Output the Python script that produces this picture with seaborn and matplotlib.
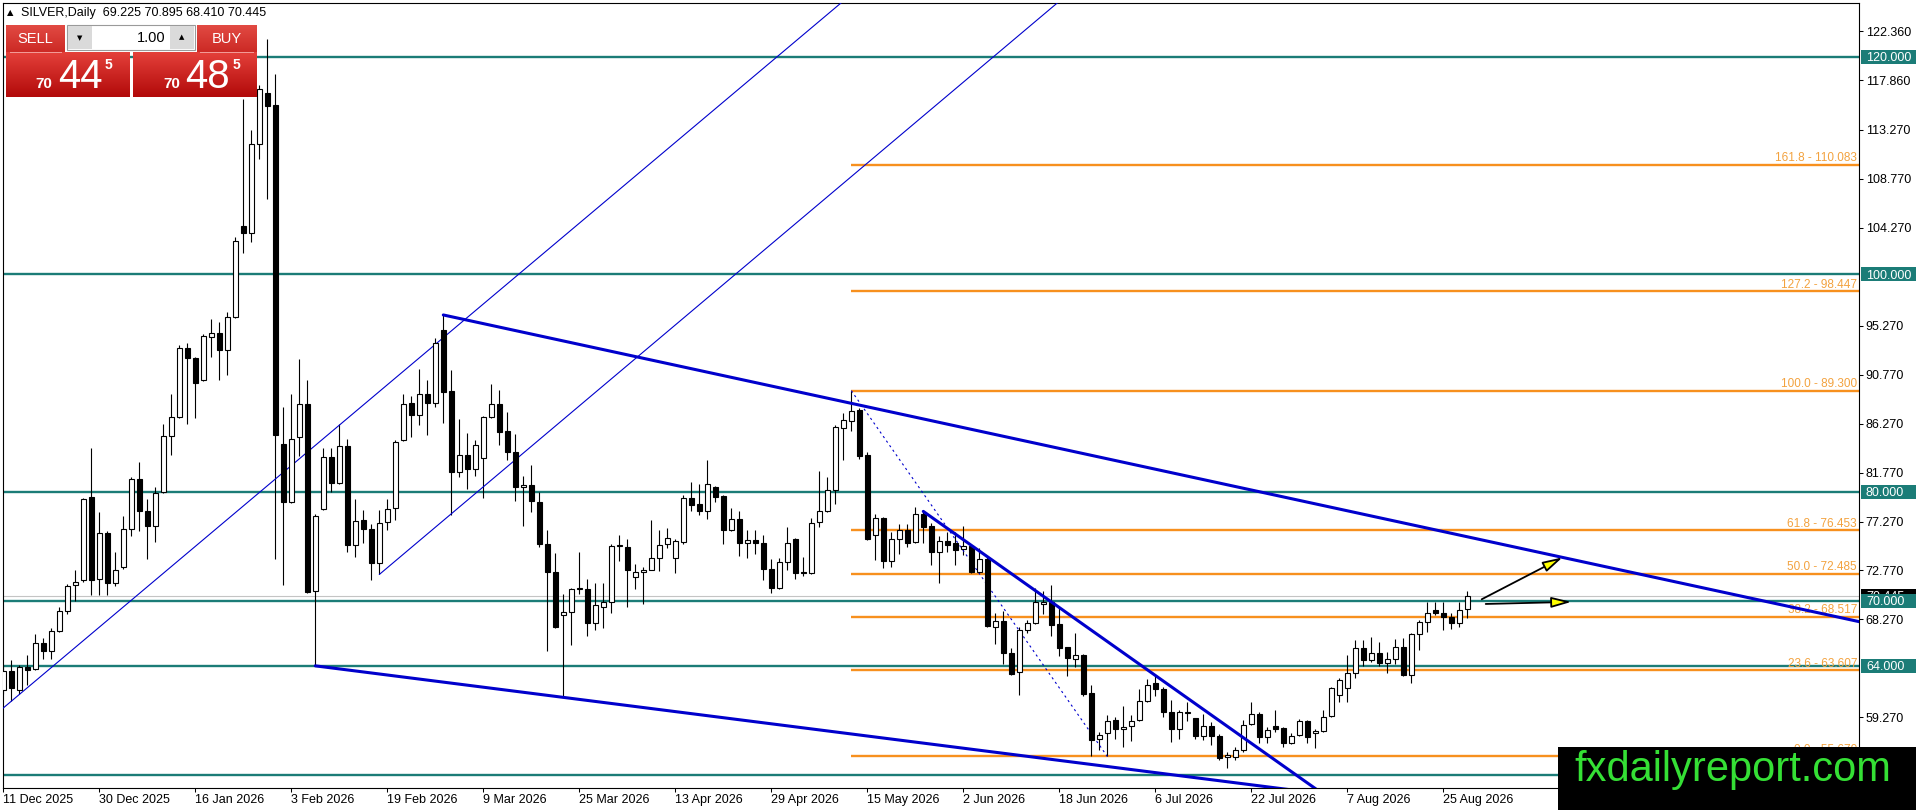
import numpy as np
import pandas as pd
import matplotlib
matplotlib.use("Agg")
import matplotlib.pyplot as plt
import matplotlib.transforms as mtrans
from matplotlib.patches import Rectangle, FancyArrowPatch, ArrowStyle
from matplotlib.colors import LinearSegmentedColormap
import seaborn as sns

# ---------------- data (daily OHLC, bar 0 = 11 Dec 2025 ... bar 183 = 28 Aug 2026) ----------------
opens = [
    61.8, 63.5, 61.8, 63.9, 63.7, 66.1, 65.4, 67.2, 69.0, 71.4,
    71.9, 79.5, 72.0, 76.2, 71.6, 73.1, 76.6, 81.2, 78.2, 76.9,
    80.0, 85.1, 86.9, 93.2, 92.3, 90.3, 94.2, 94.6, 93.0, 96.1,
    104.4, 103.8, 112.0, 116.7, 115.6, 84.4, 79.1, 85.0, 88.1, 70.9,
    78.4, 83.2, 80.8, 84.2, 75.1, 77.4, 76.6, 73.5, 77.2, 78.5,
    84.8, 88.2, 87.1, 89.0, 88.2,
    94.9, 89.3, 81.8, 83.4, 82.1, 83.1, 86.9, 88.1, 85.6, 83.7,
    80.4, 80.6, 79.1, 75.2, 72.6, 68.7, 68.95, 71.1, 71.1, 67.95,
    69.4, 69.9, 75.0, 74.9, 72.2, 72.6, 72.85, 73.95, 75.2, 73.9,
    75.4, 79.4, 78.9, 78.25, 80.4, 79.6, 76.5, 77.5, 75.3, 75.55,
    75.3, 72.95, 71.2, 73.55, 75.7, 72.6, 72.55, 77.2, 78.25, 80.15,
    85.86, 86.47, 87.48, 83.4, 76.0,
    77.6, 73.6, 75.7, 76.5, 75.4, 78.0, 76.9, 74.5, 75.5, 75.3,
    74.7, 75.0, 72.6, 73.8, 67.55, 68.15, 65.2, 63.4, 67.25, 67.9,
    69.7, 69.9, 67.85, 65.7, 64.6, 65.0, 61.5, 57.25, 57.8, 59.0,
    58.15, 58.45, 59.0, 60.8, 62.4, 61.9, 59.8, 58.15, 59.7, 59.2,
    57.55, 58.5, 57.55, 55.6, 55.6, 56.25, 58.65, 59.6, 57.5, 58.45,
    58.25, 56.9,
    57.64, 58.96, 57.79, 58.04, 59.42, 61.32, 62.0, 63.37, 65.61, 64.54,
    65.21, 64.29, 64.6, 65.71, 63.16, 66.93, 68.07, 69.14, 68.83, 68.47,
    67.98, 69.225,
]
highs = [
    64.1, 64.56, 64.1, 65.0, 66.9, 66.6, 67.5, 69.4, 71.5, 72.8,
    79.4, 84.0, 78.1, 76.4, 74.5, 77.8, 81.4, 82.7, 79.3, 80.4,
    86.2, 89.0, 93.5, 93.7, 92.4, 94.5, 95.9, 95.6, 96.5, 103.4,
    116.1, 113.3, 117.4, 121.6, 118.4, 87.8, 89.0, 92.2, 90.3, 78.0,
    84.0, 84.0, 86.2, 84.9, 79.3, 78.3, 77.0, 78.3, 79.3, 84.8,
    89.0, 88.8, 91.3, 90.3, 94.1,
    96.26, 91.2, 86.7, 85.4, 84.8, 87.0, 89.9, 89.4, 87.3, 85.3,
    81.5, 82.5, 80.0, 76.5, 74.4, 70.6, 71.2, 74.5, 72.0, 71.6,
    71.6, 75.2, 76.0, 75.7, 73.4, 73.1, 77.45, 76.5, 76.7, 75.7,
    79.7, 80.9, 80.7, 82.9, 80.5, 79.7, 78.55, 78.25, 76.5, 76.5,
    76.0, 73.8, 73.9, 76.8, 75.8, 74.0, 77.6, 81.9, 81.4, 86.1,
    87.24, 89.3, 87.7, 83.7, 78.0,
    77.7, 76.35, 77.05, 77.0, 78.65, 78.2, 77.1, 75.95, 76.3, 76.35,
    76.9, 75.2, 74.8, 74.05, 68.9, 69.0, 65.6, 67.6, 68.2, 71.2,
    70.9, 71.45, 69.45, 65.75, 67.05, 65.1, 62.25, 57.9, 59.5, 59.3,
    60.3, 59.5, 61.9, 62.8, 63.15, 62.1, 60.85, 59.95, 60.7, 59.25,
    59.6, 58.85, 57.7, 56.1, 56.55, 59.0, 60.7, 59.8, 58.4, 59.9,
    58.4, 57.8,
    59.08, 59.02, 58.16, 59.94, 62.09, 62.85, 65.0, 66.38, 66.38, 66.63,
    66.23, 65.31, 66.44, 66.53, 66.99, 68.22, 69.91, 69.91, 69.91, 68.83,
    69.91, 70.895,
]
lows = [
    61.4, 60.76, 61.4, 62.2, 63.6, 64.6, 64.6, 67.1, 68.8, 70.0,
    71.7, 70.5, 70.5, 70.5, 71.3, 72.9, 75.9, 76.4, 73.8, 75.4,
    79.9, 83.4, 86.8, 86.2, 86.8, 90.2, 92.4, 90.3, 90.7, 96.0,
    102.0, 103.0, 110.6, 106.9, 73.8, 71.4, 79.0, 83.3, 70.7, 64.0,
    78.3, 80.0, 80.7, 74.5, 74.0, 75.3, 71.9, 72.4, 76.5, 77.4,
    84.7, 85.0, 86.1, 85.2, 87.8,
    86.35, 77.85, 81.4, 80.3, 81.5, 79.4, 86.8, 84.3, 82.9, 79.2,
    76.9, 78.1, 74.9, 65.4, 67.5, 61.1, 65.9, 70.6, 66.7, 67.3,
    67.5, 68.9, 73.6, 69.4, 71.1, 69.7, 72.8, 72.7, 74.8, 72.5,
    75.2, 78.2, 77.85, 77.5, 79.1, 75.2, 76.4, 74.1, 73.9, 74.3,
    71.9, 70.7, 71.1, 72.8, 72.0, 72.3, 72.4, 76.8, 78.1, 78.9,
    82.94, 85.55, 83.0, 75.6, 73.7,
    73.0, 73.1, 74.3, 74.9, 75.3, 75.3, 73.3, 71.65, 74.5, 73.3,
    74.2, 72.5, 72.5, 67.55, 66.0, 64.2, 63.15, 61.3, 67.0, 67.85,
    68.8, 66.7, 64.9, 63.1, 63.9, 61.2, 55.7, 56.25, 55.67, 57.3,
    56.5, 57.1, 58.9, 60.7, 61.2, 59.3, 57.0, 57.25, 58.9, 57.25,
    57.2, 56.7, 55.3, 54.65, 55.35, 56.1, 58.55, 56.9, 56.9, 57.95,
    56.5, 56.8,
    57.55, 56.87, 56.41, 57.94, 59.33, 60.71, 60.71, 62.85, 63.99, 64.39,
    63.99, 63.37, 64.17, 63.07, 62.45, 65.46, 67.15, 68.68, 67.3, 67.36,
    67.61, 68.41,
]
closes = [
    63.5, 62.0, 63.9, 63.6, 66.1, 65.4, 67.2, 69.0, 71.3, 71.7,
    79.3, 71.9, 76.2, 71.6, 72.8, 76.6, 81.2, 78.2, 76.9, 79.9,
    85.1, 86.9, 93.2, 92.3, 90.0, 94.3, 94.6, 93.0, 96.1, 103.1,
    103.8, 112.0, 117.0, 115.5, 85.2, 79.1, 84.9, 88.1, 70.8, 77.8,
    83.2, 80.8, 84.2, 75.1, 77.3, 76.6, 73.5, 77.1, 78.4, 84.6,
    88.1, 87.1, 89.0, 88.2, 93.7,
    89.2, 81.8, 83.4, 82.1, 84.3, 86.9, 88.1, 85.5, 83.7, 80.4,
    80.6, 79.2, 75.2, 72.6, 67.6, 68.95, 71.1, 71.2, 67.9, 69.6,
    69.9, 75.0, 75.05, 72.85, 72.6, 72.85, 73.95, 75.1, 75.8, 75.5,
    79.4, 78.8, 78.25, 80.7, 79.5, 76.5, 77.5, 75.3, 75.55, 75.3,
    72.95, 71.2, 73.55, 75.25, 72.55, 72.55, 77.15, 78.25, 80.2, 86.0,
    86.56, 87.39, 83.31, 75.7, 77.6,
    73.6, 75.7, 76.5, 75.3, 78.0, 76.8, 74.5, 75.5, 75.1, 74.65,
    75.0, 72.6, 73.8, 67.7, 68.15, 65.2, 63.25, 67.3, 67.9, 69.9,
    69.9, 67.75, 65.6, 64.7, 65.0, 61.4, 57.2, 57.6, 58.95, 58.15,
    58.4, 58.95, 60.8, 62.25, 61.9, 59.8, 58.15, 59.8, 59.8, 57.55,
    58.45, 57.55, 55.5, 55.8, 56.25, 58.55, 59.6, 57.5, 58.1, 58.15,
    56.9, 57.55,
    58.96, 57.42, 58.04, 59.33, 61.93, 62.7, 63.37, 65.61, 64.54, 65.21,
    64.29, 64.6, 65.71, 63.16, 66.93, 68.07, 68.83, 68.83, 68.53, 67.98,
    69.14, 70.445,
]

date_labels = ["11 Dec 2025", "30 Dec 2025", "16 Jan 2026", "3 Feb 2026", "19 Feb 2026",
               "9 Mar 2026", "25 Mar 2026", "13 Apr 2026", "29 Apr 2026", "15 May 2026",
               "2 Jun 2026", "18 Jun 2026", "6 Jul 2026", "22 Jul 2026", "7 Aug 2026",
               "25 Aug 2026"]
date_label_bars = [0, 12, 24, 36, 48, 60, 72, 84, 96, 108, 120, 132, 144, 156, 168, 180]

# visible price-scale labels (the ones under the level boxes / watermark are not shown)
price_ticks = [122.36, 117.86, 113.27, 108.77, 104.27, 95.27, 90.77, 86.27,
               81.77, 77.27, 72.77, 68.27, 59.27]

sr_levels = [120.0, 100.0, 80.0, 70.0, 64.0, 54.0]

fib_ratios = [161.8, 127.2, 100.0, 61.8, 50.0, 38.2, 23.6, 0.0]
fib_prices = [110.083, 98.447, 89.300, 76.453, 72.485, 68.517, 63.607, 55.670]
fib_start_bar = 106
fib_anchor_bars = [106, 138]
fib_anchor_prices = [89.300, 55.670]

channel_top_bars = [55, 232]
channel_top_prices = [96.26, 68.06]
channel_bottom_bars = [39, 166]
channel_bottom_prices = [64.0, 52.13]
downtrend_bars = [115, 165]
downtrend_prices = [78.2, 52.2]
rise_a_bars = [-1, 106]
rise_a_prices = [59.51, 125.74]
rise_b_bars = [47, 133]
rise_b_prices = [72.4, 125.72]

arrow_up_bars = [184.8, 194.9]
arrow_up_prices = [70.12, 73.97]
arrow_flat_bars = [185.3, 196.0]
arrow_flat_prices = [69.69, 69.88]

bid_price = 70.445
ask_price = 70.485
header_ohlc = [69.225, 70.895, 68.410, 70.445]
lot_size = "1.00"

# ---------------- styling ----------------
W, H = 1916, 810
sns.set_theme(style="white")
plt.rcParams['font.family'] = ['Liberation Sans', 'DejaVu Sans']

TEAL = '#1b7c77'
ORANGE = '#f7901e'
ORANGE_TXT = '#f3a23e'
BLUE = '#0000cc'

fig = plt.figure(figsize=(W / 100, H / 100), dpi=100)
fig.patch.set_facecolor('white')


def fx(px):
    return px / W


def fy(py):
    return 1 - py / H


ax = fig.add_axes([fx(3), fy(788), fx(1859) - fx(3), fy(3) - fy(788)])
ax.set_facecolor('white')
ax.set_xlim(-0.0375, 231.96)
ax.set_ylim(52.77, 124.94)

df = pd.DataFrame({'open': opens, 'high': highs, 'low': lows, 'close': closes})
df['bar'] = np.arange(len(df))

# support / resistance levels
for lv in sr_levels:
    ax.axhline(lv, color=TEAL, lw=1.7, zorder=2)
ax.axhline(bid_price, color='#c4c4c4', lw=0.8, zorder=1.8)

# fibonacci levels
for r, p in zip(fib_ratios, fib_prices):
    ax.hlines(p, fib_start_bar, 232, color=ORANGE, lw=1.7, zorder=2)

# candles
ax.vlines(df['bar'], df['low'], df['high'], color='black', lw=0.8, zorder=3)
body_bottom = np.minimum(df['open'], df['close'])
body_h = np.maximum((df['close'] - df['open']).abs(), 0.09)
body_col = np.where(df['close'] >= df['open'], 'white', 'black')
ax.bar(df['bar'], body_h, bottom=body_bottom, width=0.62, color=body_col,
       edgecolor='black', linewidth=0.8, zorder=4)

# trend lines (seaborn line plots)
sns.lineplot(x=rise_a_bars, y=rise_a_prices, ax=ax, color=BLUE, lw=0.8, zorder=3.5)
sns.lineplot(x=rise_b_bars, y=rise_b_prices, ax=ax, color=BLUE, lw=0.8, zorder=3.5)
sns.lineplot(x=channel_top_bars, y=channel_top_prices, ax=ax, color=BLUE, lw=2.2, zorder=5)
sns.lineplot(x=channel_bottom_bars, y=channel_bottom_prices, ax=ax, color=BLUE, lw=2.2, zorder=5)
sns.lineplot(x=downtrend_bars, y=downtrend_prices, ax=ax, color=BLUE, lw=2.2, zorder=5)
sns.lineplot(x=fib_anchor_bars, y=fib_anchor_prices, ax=ax, color=BLUE, lw=0.8,
             linestyle=(0, (2, 3)), zorder=3.5)

# arrows
for bx, py in [(arrow_up_bars, arrow_up_prices), (arrow_flat_bars, arrow_flat_prices)]:
    arr = FancyArrowPatch((bx[0], py[0]), (bx[1], py[1]),
                          arrowstyle=ArrowStyle('-|>', head_length=1.2, head_width=0.32),
                          mutation_scale=10, fc='#ffff00', ec='black', lw=1.3,
                          shrinkA=0, shrinkB=0, zorder=6)
    ax.add_patch(arr)

# axes formatting
ax.grid(False)
ax.yaxis.tick_right()
ax.set_yticks(price_ticks)
ax.set_yticklabels([f"{v:.3f}" for v in price_ticks])
ax.tick_params(axis='y', left=False, right=True, length=2.9, width=0.75, pad=2,
               labelsize=9, colors='black', direction='out')
ax.set_xticks(date_label_bars)
ax.set_xticklabels(date_labels)
for t in ax.get_xticklabels():
    t.set_ha('left')
ax.tick_params(axis='x', bottom=True, length=2.9, width=0.75, pad=1.5,
               labelsize=9, colors='black', direction='out')
for s in ax.spines.values():
    s.set_visible(True)
    s.set_color('black')
    s.set_linewidth(0.8)
ax.set_xlabel('')
ax.set_ylabel('')

bt = mtrans.blended_transform_factory(fig.transFigure, ax.transData)

# fib labels
for r, p in zip(fib_ratios, fib_prices):
    ax.text(fx(1857), p + 0.05, f"{r:.1f} - {p:.3f}", transform=bt, ha='right', va='bottom',
            color=ORANGE_TXT, fontsize=8.5, zorder=4.5)

# price-axis boxes
hh = 7 / 10.877
ax.add_patch(Rectangle((fx(1861), bid_price - hh), fx(1916) - fx(1861), 2 * hh, transform=bt,
                       facecolor='black', edgecolor='none', clip_on=False, zorder=6))
ax.text(fx(1866), bid_price, f"{bid_price:.3f}", transform=bt, ha='left', va='center_baseline',
        color='white', fontsize=9, clip_on=False, zorder=6.5)
for lv in sr_levels:
    ax.add_patch(Rectangle((fx(1861), lv - hh), fx(1916) - fx(1861), 2 * hh, transform=bt,
                           facecolor=TEAL, edgecolor='none', clip_on=False, zorder=7))
    ax.text(fx(1866), lv, f"{lv:.3f}", transform=bt, ha='left', va='center_baseline',
            color='white', fontsize=9, clip_on=False, zorder=7.5)


# ---------------- one-click trading panel & header ----------------
def rect(x0, y0, x1, y1, z=20, **kw):
    r = Rectangle((fx(x0), fy(y1)), (x1 - x0) / W, (y1 - y0) / H, transform=fig.transFigure,
                  zorder=z, **kw)
    fig.add_artist(r)
    return r


def grad_box(x0, y0, x1, y1, top, bottom, z=20):
    a = fig.add_axes([fx(x0), fy(y1), fx(x1) - fx(x0), fy(y0) - fy(y1)])
    cmap = LinearSegmentedColormap.from_list('g', [top, bottom])
    a.imshow(np.linspace(0, 1, 64).reshape(-1, 1), aspect='auto', cmap=cmap,
             extent=(0, 1, 0, 1), origin='upper')
    a.set_axis_off()
    a.set_zorder(z)
    return a


fig.text(fx(7), fy(13), "\u25b2", fontsize=6, va='center', ha='left',
         family=['DejaVu Sans'], color='black', zorder=30)
fig.text(fx(21), fy(13), "SILVER,Daily  " + " ".join(f"{v:.3f}" for v in header_ohlc),
         fontsize=9, va='center', ha='left', color='black', zorder=30)

# buttons
grad_box(6, 25, 65, 52, '#e24a43', '#cc2a25')
grad_box(197, 25, 257, 52, '#e24a43', '#cc2a25')
grad_box(6, 52, 130, 97, '#e4403a', '#b20a0a')
grad_box(133, 52, 257, 97, '#e4403a', '#b20a0a')
rect(10, 51.5, 62, 52.5, z=25, facecolor='#f29a96', edgecolor='none')
rect(200, 51.5, 254, 52.5, z=25, facecolor='#f29a96', edgecolor='none')
# spinner
rect(67, 25, 195, 50, z=21, facecolor='white', edgecolor='#9a9a9a', lw=0.8)
rect(68, 26, 92, 49, z=22, facecolor='#dadada', edgecolor='none')
rect(170, 26, 194, 49, z=22, facecolor='#dadada', edgecolor='none')

fig.text(fx(35), fy(39), "SELL", fontsize=10.5, color='white', ha='center', va='center', zorder=30)
fig.text(fx(227), fy(39), "BUY", fontsize=10.5, color='white', ha='center', va='center', zorder=30)
fig.text(fx(165), fy(38), lot_size, fontsize=10.5, color='black', ha='right', va='center', zorder=30)
fig.text(fx(80), fy(38), "\u25bc", fontsize=5, color='black', ha='center', va='center',
         family=['DejaVu Sans'], zorder=30)
fig.text(fx(182), fy(37), "\u25b2", fontsize=5, color='black', ha='center', va='center',
         family=['DejaVu Sans'], zorder=30)

sell_txt = f"{bid_price:.3f}"
ask_txt = f"{ask_price:.3f}"
for (x_small, x_big, x_sup, txt) in [(44, 80, 108, sell_txt), (172, 207, 236, ask_txt)]:
    big, small, sup = txt[:2], txt[3:5], txt[5]
    fig.text(fx(x_small), fy(88), big, fontsize=11, fontweight='bold', color='white',
             ha='center', va='baseline', zorder=30)
    fig.text(fx(x_big), fy(88), small, fontsize=29, color='white',
             ha='center', va='baseline', zorder=30)
    fig.text(fx(x_sup), fy(69), sup, fontsize=10, fontweight='bold', color='white',
             ha='center', va='baseline', zorder=30)

# watermark
rect(1558, 747, 1916, 810, z=40, facecolor='black', edgecolor='none')
fig.text(fx(1574), fy(770), "fxdailyreport.com", fontsize=30, color='#35e035',
         ha='left', va='center', zorder=41)

fig.savefig("out.png", dpi=100, facecolor='white')
